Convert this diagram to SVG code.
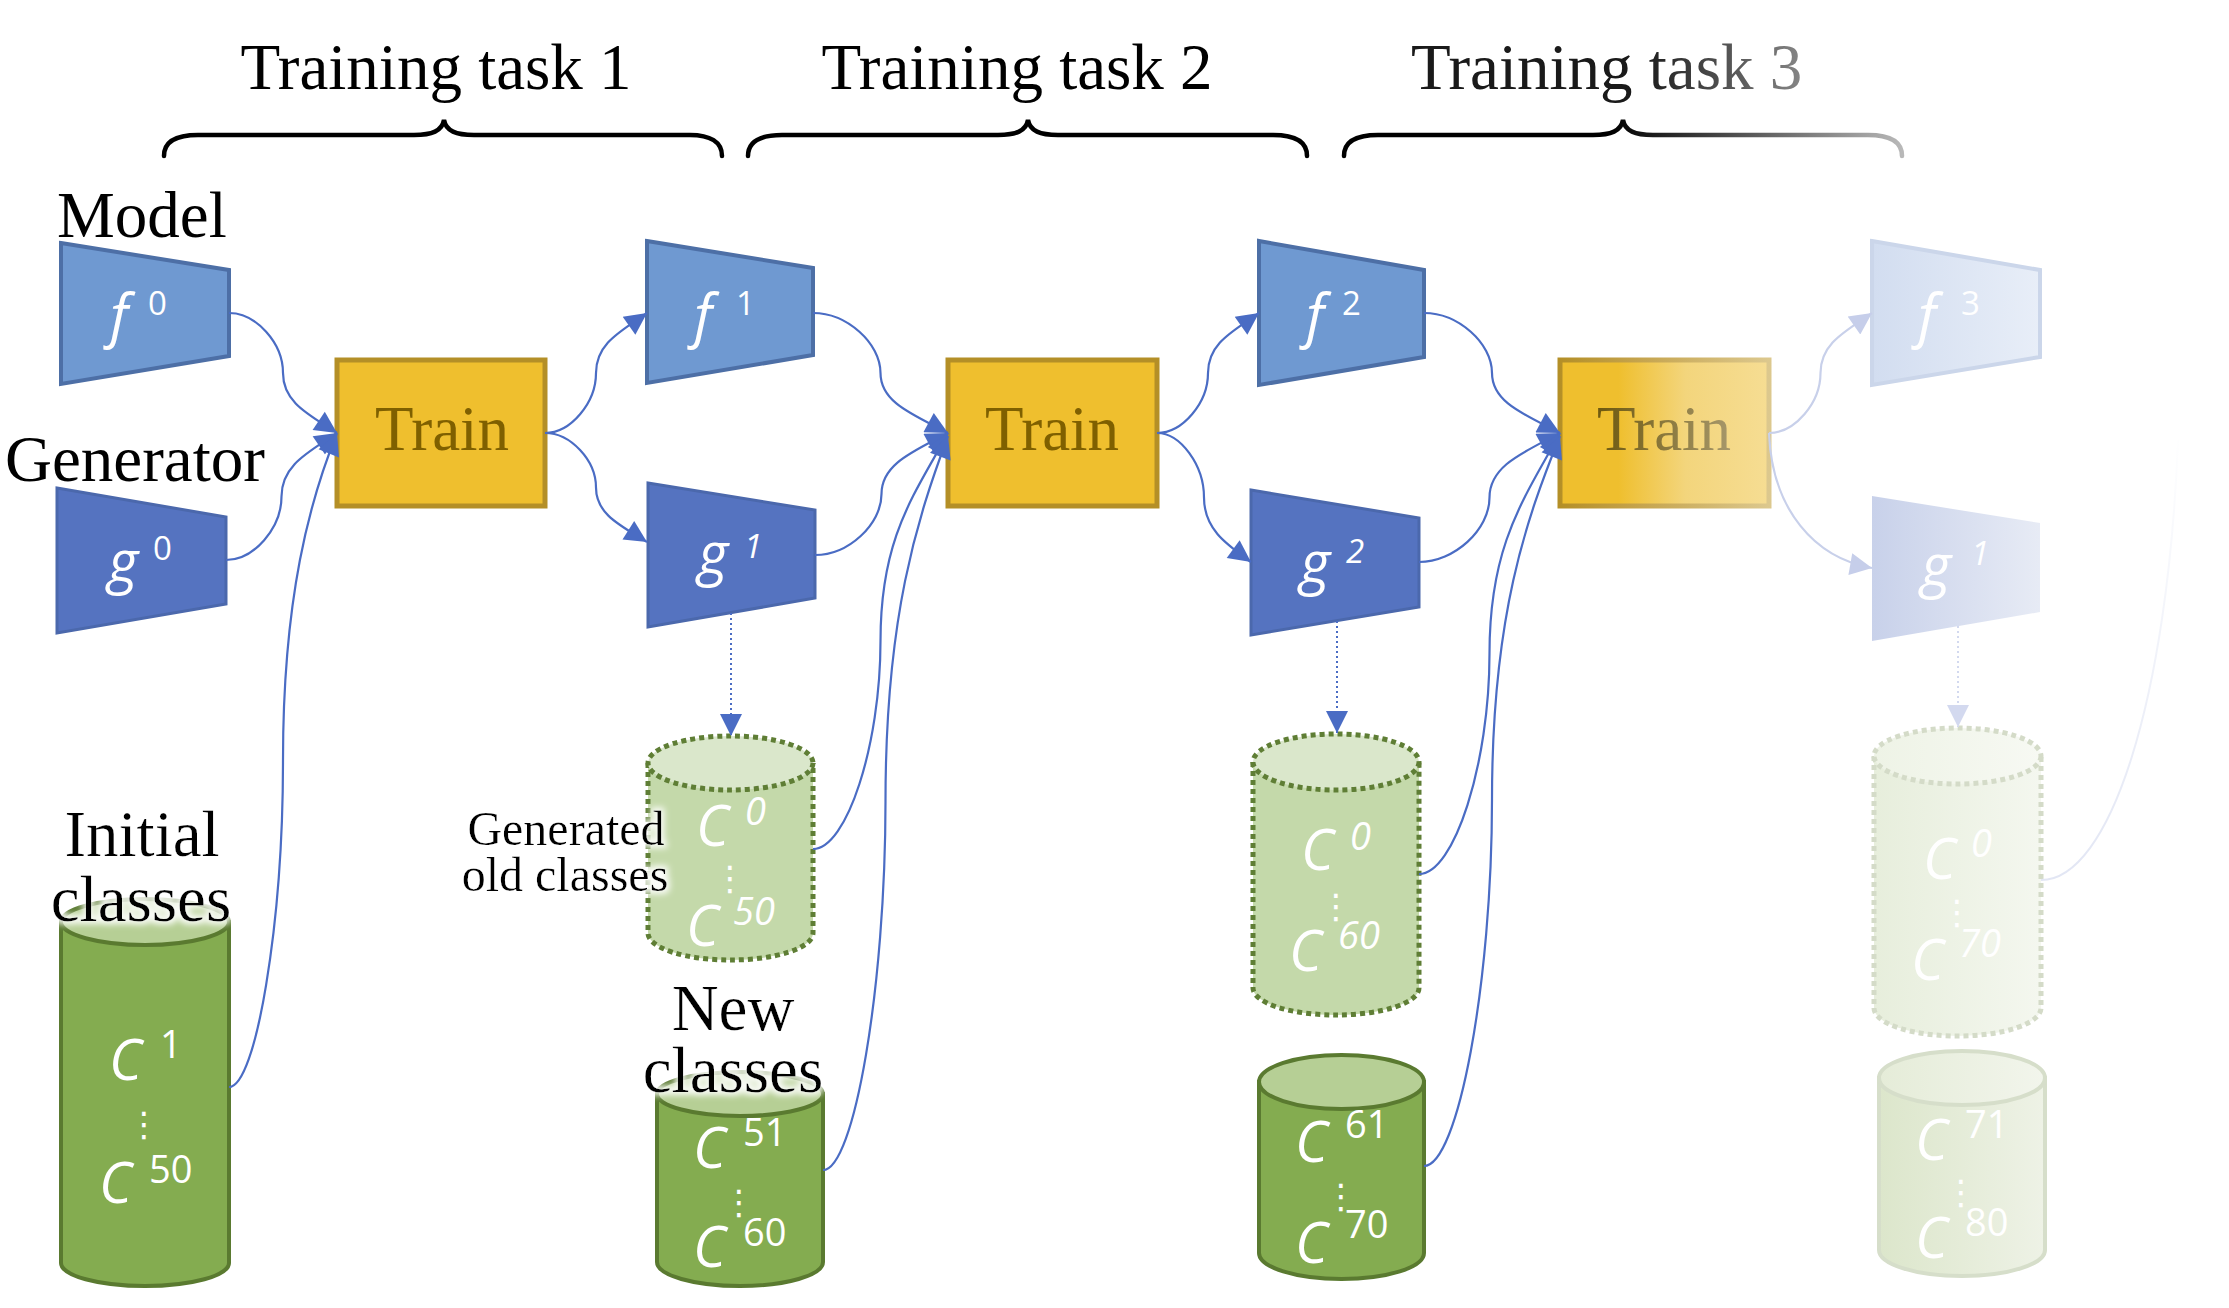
<svg xmlns="http://www.w3.org/2000/svg" width="2229" height="1308" viewBox="0 0 2229 1308">
<style>
.ttl{font-family:"Liberation Serif","Times New Roman",serif;font-size:65px;fill:#000}
.lbl{font-family:"Liberation Serif","Times New Roman",serif;font-size:65px;fill:#000}
.lbs{font-family:"Liberation Serif","Times New Roman",serif;font-size:48px;fill:#000}
.trn{font-family:"Liberation Serif","Times New Roman",serif;font-size:63px;fill:#7F6000;text-anchor:middle}
.m{font-family:"Open Sans","Noto Sans",sans-serif;font-style:italic;font-size:58px;fill:#fff}
.c{font-family:"Open Sans","Noto Sans",sans-serif;font-style:italic;font-size:56px;fill:#fff}
.s{font-family:"Open Sans","Noto Sans",sans-serif;font-size:33px;fill:#fff}
.si{font-family:"Open Sans","Noto Sans",sans-serif;font-style:italic;font-size:33px;fill:#fff}
.cs{font-family:"Open Sans","Noto Sans",sans-serif;font-size:38px;fill:#fff}
.csi{font-family:"Open Sans","Noto Sans",sans-serif;font-style:italic;font-size:38px;fill:#fff}
.dots{font-family:"DejaVu Sans",sans-serif;font-size:34px;fill:#fff;text-anchor:middle}
.ff{fill:#6F99D1;stroke:#4D6FA6;stroke-width:4}
.gg{fill:#5573C0;stroke:#4B68AC;stroke-width:3}
.tb{fill:#EFBF2E;stroke:#B48F27;stroke-width:5}
.cb{fill:#84AC50;stroke:#5A7A30;stroke-width:4}
.ct{fill:#B6CF95;stroke:#5A7A30;stroke-width:4}
.db{fill:#C4D9AA;stroke:#5F7E35;stroke-width:5;stroke-dasharray:5 4}
.dt{fill:#DAE7CB;stroke:#5F7E35;stroke-width:5;stroke-dasharray:5 4}
.brace{fill:none;stroke:#000;stroke-width:4.5;stroke-linecap:round}
.cn{fill:none;stroke:#4A6CC4;stroke-width:2.2;marker-end:url(#ah)}
.cnf{fill:none;stroke:#C8D0EA;stroke-width:2.2;marker-end:url(#ahf)}
.dl{fill:none;stroke:#4A6CC4;stroke-width:2;stroke-dasharray:2 3;marker-end:url(#ah)}
.dlf{fill:none;stroke:#D3D9EF;stroke-width:2;stroke-dasharray:2 3;marker-end:url(#ahf2)}
</style>
<defs>
<marker id="ah" viewBox="0 0 10 10" refX="10" refY="5" markerWidth="26" markerHeight="22" markerUnits="userSpaceOnUse" orient="auto"><path d="M0,0 L10,5 L0,10 z" fill="#4A6CC4"/></marker>
<marker id="ahf" viewBox="0 0 10 10" refX="10" refY="5" markerWidth="26" markerHeight="22" markerUnits="userSpaceOnUse" orient="auto"><path d="M0,0 L10,5 L0,10 z" fill="#C6CEEA"/></marker>
<marker id="ahf2" viewBox="0 0 10 10" refX="10" refY="5" markerWidth="24" markerHeight="22" markerUnits="userSpaceOnUse" orient="auto"><path d="M0,0 L10,5 L0,10 z" fill="#D3D9EF"/></marker>
<filter id="glow" x="-20%" y="-40%" width="140%" height="180%">
<feMorphology in="SourceAlpha" operator="dilate" radius="3" result="d"/>
<feGaussianBlur in="d" stdDeviation="3" result="b"/>
<feFlood flood-color="#ffffff" flood-opacity="0.92"/>
<feComposite in2="b" operator="in" result="g"/>
<feMerge><feMergeNode in="g"/><feMergeNode in="SourceGraphic"/></feMerge>
</filter>
<linearGradient id="gT3" x1="0" y1="0" x2="1" y2="0"><stop offset="0" stop-color="#EFBF2E"/><stop offset="0.28" stop-color="#EFBF2E"/><stop offset="0.6" stop-color="#F3D57C"/><stop offset="1" stop-color="#F6DD93"/></linearGradient>
<linearGradient id="gT3s" x1="0" y1="0" x2="1" y2="0"><stop offset="0" stop-color="#B48F27"/><stop offset="0.35" stop-color="#C4A24A"/><stop offset="1" stop-color="#DCC88E"/></linearGradient>
<linearGradient id="gT3t" gradientUnits="userSpaceOnUse" x1="1600" y1="0" x2="1730" y2="0"><stop offset="0" stop-color="#6F5A10"/><stop offset="1" stop-color="#A6976A"/></linearGradient>
<linearGradient id="gTitle3" gradientUnits="userSpaceOnUse" x1="1640" y1="0" x2="1812" y2="0"><stop offset="0" stop-color="#1A1A1A"/><stop offset="1" stop-color="#8C8C8C"/></linearGradient>
<linearGradient id="gBrace3" gradientUnits="userSpaceOnUse" x1="1610" y1="0" x2="1902" y2="0"><stop offset="0" stop-color="#000"/><stop offset="1" stop-color="#B8B8B8"/></linearGradient>
<linearGradient id="gF3" x1="0" y1="0" x2="1" y2="0"><stop offset="0" stop-color="#D2DDF0"/><stop offset="1" stop-color="#E8EEF8"/></linearGradient>
<linearGradient id="gG3" x1="0" y1="0" x2="1" y2="0"><stop offset="0" stop-color="#C8D1EA"/><stop offset="1" stop-color="#E7EBF5"/></linearGradient>
<linearGradient id="gD3b" x1="0" y1="0" x2="1" y2="0"><stop offset="0" stop-color="#E7EEDC"/><stop offset="1" stop-color="#F4F7EF"/></linearGradient>
<linearGradient id="gD3t" x1="0" y1="0" x2="1" y2="0"><stop offset="0" stop-color="#EEF3E6"/><stop offset="1" stop-color="#F7F9F3"/></linearGradient>
<linearGradient id="gN3b" x1="0" y1="0" x2="1" y2="0"><stop offset="0" stop-color="#DCE6CB"/><stop offset="1" stop-color="#EEF2E6"/></linearGradient>
<linearGradient id="gN3t" x1="0" y1="0" x2="1" y2="0"><stop offset="0" stop-color="#E5ECD8"/><stop offset="1" stop-color="#F2F5EC"/></linearGradient>
<linearGradient id="gFade" gradientUnits="userSpaceOnUse" x1="0" y1="880" x2="0" y2="430"><stop offset="0" stop-color="#E2E6F4"/><stop offset="1" stop-color="#FFFFFF"/></linearGradient>
</defs>

<g id="titles">
<text class="ttl" x="436" y="89" text-anchor="middle">Training task 1</text>
<text class="ttl" x="1017" y="89" text-anchor="middle">Training task 2</text>
<text class="ttl" x="1411" y="89" style="fill:url(#gTitle3)">Training task 3</text>
<path class="brace" d="M164,156 C164,142 176,135 198,135 L414,135 C432,135 442,131 444,120 C446,131 456,135 474,135 L690,135 C710,135 722,142 722,156"/>
<path class="brace" d="M748,156 C748,142 760,135 782,135 L998,135 C1016,135 1026,131 1028,120 C1030,131 1040,135 1058,135 L1273,135 C1295,135 1307,142 1307,156"/>
<path class="brace" style="stroke:url(#gBrace3)" d="M1344,156 C1344,142 1356,135 1378,135 L1593,135 C1611,135 1621,131 1623,120 C1625,131 1635,135 1653,135 L1868,135 C1890,135 1902,142 1902,156"/>
<text class="lbl" x="57" y="237">Model</text>
<text class="lbl" x="5" y="481">Generator</text>
</g>

<g id="f0"><polygon class="ff" points="61,243 229,270 229,356 61,384"/><text class="m" x="110" y="336">f</text><text class="s" x="148" y="315">0</text></g>
<g id="g0"><polygon class="gg" points="57,488 226,517 226,604 57,633"/><text class="m" x="108" y="582">g</text><text class="s" x="153" y="560">0</text></g>
<g id="train1"><rect class="tb" x="337" y="360" width="208" height="146"/><text class="trn" x="442" y="450">Train</text></g>
<g id="f1"><polygon class="ff" points="647,241 813,268 813,355 647,383"/><text class="m" x="694" y="336">f</text><text class="s" x="736" y="315">1</text></g>
<g id="g1"><polygon class="gg" points="648,483 815,510 815,598 648,627"/><text class="m" x="698" y="574">g</text><text class="si" x="744" y="558">1</text></g>
<g id="train2"><rect class="tb" x="948" y="360" width="209" height="146"/><text class="trn" x="1052" y="450">Train</text></g>
<g id="f2"><polygon class="ff" points="1259,241 1424,270 1424,357 1259,385"/><text class="m" x="1306" y="336">f</text><text class="s" x="1342" y="315">2</text></g>
<g id="g2"><polygon class="gg" points="1251,490 1419,518 1419,607 1251,635"/><text class="m" x="1300" y="583">g</text><text class="si" x="1346" y="563">2</text></g>
<g id="train3"><rect x="1560" y="360" width="209" height="146" fill="url(#gT3)" stroke="url(#gT3s)" stroke-width="5"/><text class="trn" x="1664" y="450" style="fill:url(#gT3t)">Train</text></g>
<g id="f3"><polygon points="1872,241 2040,270 2040,357 1872,385" fill="url(#gF3)" stroke="#CBD6EA" stroke-width="4"/><text class="m" x="1918" y="336">f</text><text class="s" x="1961" y="315">3</text></g>
<g id="g1b"><polygon points="1872,496 2040,523 2040,612 1872,641" fill="url(#gG3)"/><text class="m" x="1921" y="586">g</text><text class="si" x="1971" y="565">1</text></g>

<g id="initial">
<path class="cb" d="M61,922 L61,1263 A84,23 0 0 0 229,1263 L229,922 Z"/>
<ellipse class="ct" cx="145" cy="922" rx="84" ry="23"/>
<text class="c" x="109" y="1080">C</text><text class="cs" x="160" y="1058">1</text>
<text class="dots" x="144" y="1136">⋮</text>
<text class="c" x="99" y="1203">C</text><text class="cs" x="149" y="1183">50</text>
<g filter="url(#glow)"><text class="lbl" x="142" y="856" text-anchor="middle">Initial</text><text class="lbl" x="141" y="921" text-anchor="middle">classes</text></g>
</g>

<g id="gen1">
<path class="db" d="M648,763 L648,933 A82.5,27 0 0 0 813,933 L813,763"/>
<ellipse class="dt" cx="730.5" cy="763" rx="82.5" ry="27"/>
<text class="c" x="696" y="846">C</text><text class="csi" x="745" y="825">0</text>
<text class="dots" x="730" y="890">⋮</text>
<text class="c" x="686" y="946">C</text><text class="csi" x="733" y="925">50</text>
<g filter="url(#glow)"><text class="lbs" x="566" y="845" text-anchor="middle">Generated</text><text class="lbs" x="565" y="891" text-anchor="middle">old classes</text></g>
</g>

<g id="new1">
<path class="cb" d="M657,1094 L657,1262 A83,24 0 0 0 823,1262 L823,1094 Z"/>
<ellipse class="ct" cx="740" cy="1094" rx="83" ry="22"/>
<text class="c" x="693" y="1168">C</text><text class="cs" x="743" y="1146">51</text>
<text class="dots" x="739" y="1214">⋮</text>
<text class="c" x="693" y="1267">C</text><text class="cs" x="743" y="1246">60</text>
<g filter="url(#glow)"><text class="lbl" x="733" y="1030" text-anchor="middle">New</text><text class="lbl" x="733" y="1092" text-anchor="middle">classes</text></g>
</g>

<g id="gen2">
<path class="db" d="M1253,762 L1253,988 A83,27 0 0 0 1419,988 L1419,762"/>
<ellipse class="dt" cx="1336" cy="762" rx="83" ry="28"/>
<text class="c" x="1301" y="870">C</text><text class="csi" x="1350" y="850">0</text>
<text class="dots" x="1336" y="918">⋮</text>
<text class="c" x="1289" y="971">C</text><text class="csi" x="1338" y="949">60</text>
</g>

<g id="new2">
<path class="cb" d="M1259,1082 L1259,1253 A82.5,26 0 0 0 1424,1253 L1424,1082 Z"/>
<ellipse class="ct" cx="1341.5" cy="1082" rx="82.5" ry="27"/>
<text class="c" x="1295" y="1162">C</text><text class="cs" x="1345" y="1138">61</text>
<text class="dots" x="1341" y="1208">⋮</text>
<text class="c" x="1295" y="1263">C</text><text class="cs" x="1345" y="1238">70</text>
</g>

<g id="gen3">
<path d="M1874,756 L1874,1008 A83.5,28 0 0 0 2041,1008 L2041,756" fill="url(#gD3b)" stroke="#D4DBC8" stroke-width="5" stroke-dasharray="5 4"/>
<ellipse cx="1957.5" cy="756" rx="83.5" ry="28" fill="url(#gD3t)" stroke="#D4DBC8" stroke-width="5" stroke-dasharray="5 4"/>
<text class="c" x="1923" y="879">C</text><text class="csi" x="1971" y="857">0</text>
<text class="dots" x="1957" y="924">⋮</text>
<text class="c" x="1911" y="980">C</text><text class="csi" x="1959" y="957">70</text>
</g>

<g id="new3">
<path d="M1879,1078 L1879,1250 A83,26 0 0 0 2045,1250 L2045,1078 Z" fill="url(#gN3b)" stroke="#D6DECA" stroke-width="4"/>
<ellipse cx="1962" cy="1078" rx="83" ry="27" fill="url(#gN3t)" stroke="#D6DECA" stroke-width="4"/>
<text class="c" x="1915" y="1160">C</text><text class="cs" x="1965" y="1138">71</text>
<text class="dots" x="1961" y="1204">⋮</text>
<text class="c" x="1915" y="1258">C</text><text class="cs" x="1965" y="1236">80</text>
</g>

<g id="connectors">
<path class="cn" d="M229,313 C256,313 283,343 283,373 C283,403 310,415 337,433"/>
<path class="cn" d="M226,560 C253.75,560 281.5,528.25 281.5,496.5 C281.5,464.75 309.25,452 337,433"/>
<path class="cn" d="M229,1087 C256,1087 283,923.5 283,760 C283,596.5 310,500 337,433"/>
<path class="cn" d="M545,433 C570.5,433 596,403 596,373 C596,343 621.5,331 647,313"/>
<path class="cn" d="M545,433 C570.5,433 596,460.25 596,487.5 C596,514.75 621.5,526 647,542"/>
<path class="cn" d="M813,313 C846.75,313 880.5,343 880.5,373 C880.5,403 914.25,415 948,433"/>
<path class="cn" d="M815,555 C848.25,555 881.5,524.5 881.5,494 C881.5,463.5 914.75,451 948,433"/>
<path class="cn" d="M813,849 C846.75,849 880.5,745 880.5,641 C880.5,537 914.25,495 948,433"/>
<path class="cn" d="M823,1170 C854.25,1170 885.5,985.75 885.5,801.5 C885.5,617.25 916.75,520 948,436"/>
<path class="cn" d="M1157,433 C1182.5,433 1208,403 1208,373 C1208,343 1233.5,331 1259,313"/>
<path class="cn" d="M1157,433 C1180.5,433 1204,465.25 1204,497.5 C1204,529.75 1227.5,545 1251,562"/>
<path class="cn" d="M1424,313 C1458,313 1492,343 1492,373 C1492,403 1526,415 1560,433"/>
<path class="cn" d="M1419,562 C1454.25,562 1489.5,529.75 1489.5,497.5 C1489.5,465.25 1524.75,452 1560,433"/>
<path class="cn" d="M1419,874 C1454.25,874 1489.5,763.75 1489.5,653.5 C1489.5,543.25 1524.75,498 1560,433"/>
<path class="cn" d="M1424,1166 C1458,1166 1492,982.75 1492,799.5 C1492,616.25 1526,520 1560,436"/>
<path class="cnf" d="M1769,433 C1794.75,433 1820.5,403 1820.5,373 C1820.5,343 1846.25,331 1872,313"/>
<path class="cnf" d="M1769,433 C1772,510 1815,558 1872,568"/>
<path d="M2041,880 C2110,880 2168,700 2178,440" fill="none" stroke="url(#gFade)" stroke-width="2"/>
<path class="dl" d="M731,613 L731,736"/>
<path class="dl" d="M1337,621 L1337,733"/>
<path class="dlf" d="M1958,626 L1958,727"/>
</g>
</svg>
